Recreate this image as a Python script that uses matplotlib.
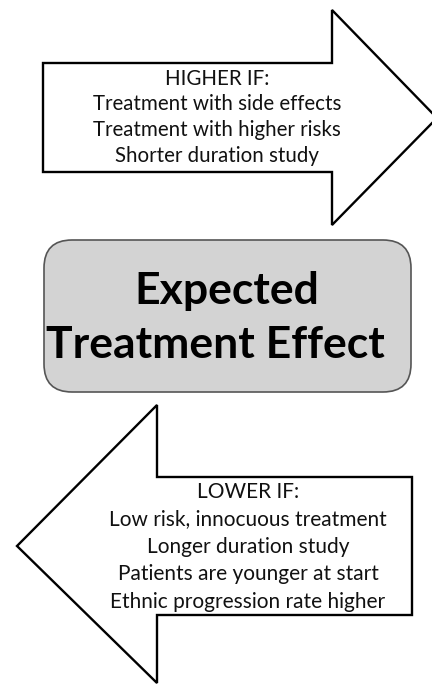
import matplotlib.pyplot as plt
from matplotlib.patches import Polygon, FancyBboxPatch

# --- Content ---
higher_lines = ["HIGHER IF:",
                "Treatment with side effects",
                "Treatment with higher risks",
                "Shorter duration study"]
lower_lines = ["LOWER IF:",
               "Low risk, innocuous treatment",
               "Longer duration study",
               "Patients are younger at start",
               "Ethnic progression rate higher"]
center_lines = ["Expected", "Treatment Effect"]

W, H = 432, 686
fig = plt.figure(figsize=(W / 100, H / 100), dpi=100)
ax = fig.add_axes([0, 0, 1, 1])
ax.set_xlim(0, W)
ax.set_ylim(H, 0)
ax.axis("off")

FONT = "Lato"

# --- Top arrow (pointing right) ---
top_arrow = [(43, 63), (332, 63), (332, 10), (437, 118),
             (332, 225), (332, 172), (43, 172)]
ax.add_patch(Polygon(top_arrow, closed=True, facecolor="white",
                     edgecolor="black", linewidth=1.7, joinstyle="miter"))
for i, line in enumerate(higher_lines):
    ax.text(217, 85 + i * 25.5, line, ha="center", va="baseline",
            fontsize=14.8, family=FONT, color="#111111")

# --- Center rounded box ---
box = FancyBboxPatch((44, 240), 367, 152,
                     boxstyle="round,pad=0,rounding_size=28",
                     facecolor="#d3d3d3", edgecolor="#555555", linewidth=1.2)
ax.add_patch(box)
ax.text(227, 304, center_lines[0], ha="center", va="baseline",
        fontsize=32, fontweight="bold", family=FONT, color="black")
ax.text(215, 358, center_lines[1], ha="center", va="baseline",
        fontsize=32, fontweight="bold", family=FONT, color="black")

# --- Bottom arrow (pointing left) ---
bottom_arrow = [(412, 477), (157, 477), (157, 405), (17, 546),
                (157, 683), (157, 615), (412, 615)]
ax.add_patch(Polygon(bottom_arrow, closed=True, facecolor="white",
                     edgecolor="black", linewidth=1.7, joinstyle="miter"))
for i, line in enumerate(lower_lines):
    ax.text(248, 498 + i * 27.5, line, ha="center", va="baseline",
            fontsize=15, family=FONT, color="#111111")

fig.savefig("out.png", dpi=100, facecolor="white")
